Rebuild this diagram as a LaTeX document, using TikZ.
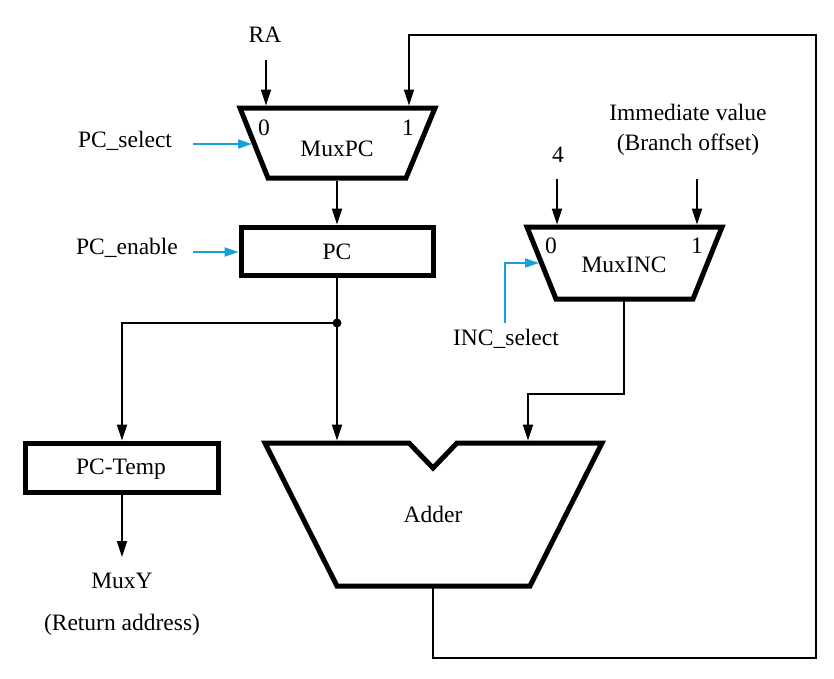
\documentclass[tikz,border=0pt]{standalone}
\usepackage{fontspec}
\setmainfont{Liberation Serif}
\usetikzlibrary{arrows.meta}
\definecolor{sigblue}{RGB}{24,160,218}
\tikzset{
  unit/.style={draw=black, line width=5pt, line join=miter, fill=white},
  wire/.style={draw=black, line width=2pt},
  arr/.style={wire, -{Triangle[length=16pt,width=10pt]}},
  barr/.style={draw=sigblue, line width=2pt, -{Triangle[length=14pt,width=9pt]}},
  lbl/.style={anchor=base, inner sep=0pt, font=\fontsize{23.5}{28}\selectfont},
}
\begin{document}
\begin{tikzpicture}[x=1pt,y=-1pt]
\useasboundingbox (0,0) rectangle (834,678);
% shapes
\draw[unit] (240,108) -- (435,108) -- (406,178) -- (268,178) -- cycle;
\draw[unit] (241,227) rectangle (433,275);
\draw[unit] (527,227) -- (722,227) -- (693,299) -- (556,299) -- cycle;
\draw[unit] (25,443) rectangle (218,492);
\draw[unit] (265,443) -- (409,443) -- (433,468) -- (457,443) -- (602,443) -- (530,586) -- (337,586) -- cycle;
% labels
\node[lbl] (ra) at (265,42) {RA};
\node[lbl] (mpc0) at (264,135) {0};
\node[lbl] (mpc1) at (408,135) {1};
\node[lbl] (mpc) at (337,156) {MuxPC};
\node[lbl] (pcsel) at (125,147) {PC\_select};
\node[lbl] (pcen) at (127,254) {PC\_enable};
\node[lbl] (pc) at (337,259) {PC};
\node[lbl] (pct) at (121,474) {PC-Temp};
\node[lbl] (muxy) at (122,588) {MuxY};
\node[lbl] (ret) at (122,630) {(Return address)};
\node[lbl] (adder) at (433,522) {Adder};
\node[lbl] (four) at (558,162) {4};
\node[lbl] (imm) at (688,120) {Immediate value};
\node[lbl] (brn) at (688,150) {(Branch offset)};
\node[lbl] (minc0) at (551,253) {0};
\node[lbl] (minc1) at (697,253) {1};
\node[lbl] (minc) at (624,272) {MuxINC};
\node[lbl] (incsel) at (506,345) {INC\_select};
% ports
\coordinate (raS) at (266,60);
\coordinate (mpcIn0) at (266,105.5);
\coordinate (mpcIn1) at (409,105.5);
\coordinate (mpcSel) at (252,144);
\coordinate (pcselE) at (193,144);
\coordinate (mpcOut) at (337,180.5);
\coordinate (pcIn) at (337,224.5);
\coordinate (pcEn) at (238.5,252);
\coordinate (pcenE) at (193,252);
\coordinate (pcOut) at (337,277);
\coordinate (split) at (337,323);
\coordinate (addIn0) at (337,440.5);
\coordinate (pctIn) at (122,440.5);
\coordinate (pctOut) at (122,494);
\coordinate (muxyN) at (122,557);
\coordinate (addOut) at (433,588);
\coordinate (fbA) at (433,658);
\coordinate (fbB) at (816,658);
\coordinate (fbC) at (816,35);
\coordinate (fbD) at (409,35);
\coordinate (fourS) at (557,179);
\coordinate (mincIn0) at (557,224.5);
\coordinate (immS) at (697,179);
\coordinate (mincIn1) at (697,224.5);
\coordinate (incS) at (505,323);
\coordinate (incC) at (505,263);
\coordinate (mincSel) at (539,263);
\coordinate (mincOut) at (624,301);
\coordinate (ib) at (624,394);
\coordinate (ic) at (528,394);
\coordinate (addIn1) at (528,440.5);
% connectors
\draw[arr] (raS) -- (mpcIn0);
\draw[arr] (addOut) -- (fbA) -- (fbB) -- (fbC) -- (fbD) -- (mpcIn1);
\draw[barr] (pcselE) -- (mpcSel);
\draw[arr] (mpcOut) -- (pcIn);
\draw[barr] (pcenE) -- (pcEn);
\draw[wire] (pcOut) -- (split);
\draw[arr] (split) -- (addIn0);
\draw[arr] (split) -- (split -| pctIn) -- (pctIn);
\fill (split) circle (4.5pt);
\draw[arr] (pctOut) -- (muxyN);
\draw[arr] (fourS) -- (mincIn0);
\draw[arr] (immS) -- (mincIn1);
\draw[barr] (incS) -- (incC) -- (mincSel);
\draw[arr] (mincOut) -- (ib) -- (ic) -- (addIn1);
\end{tikzpicture}
\end{document}
